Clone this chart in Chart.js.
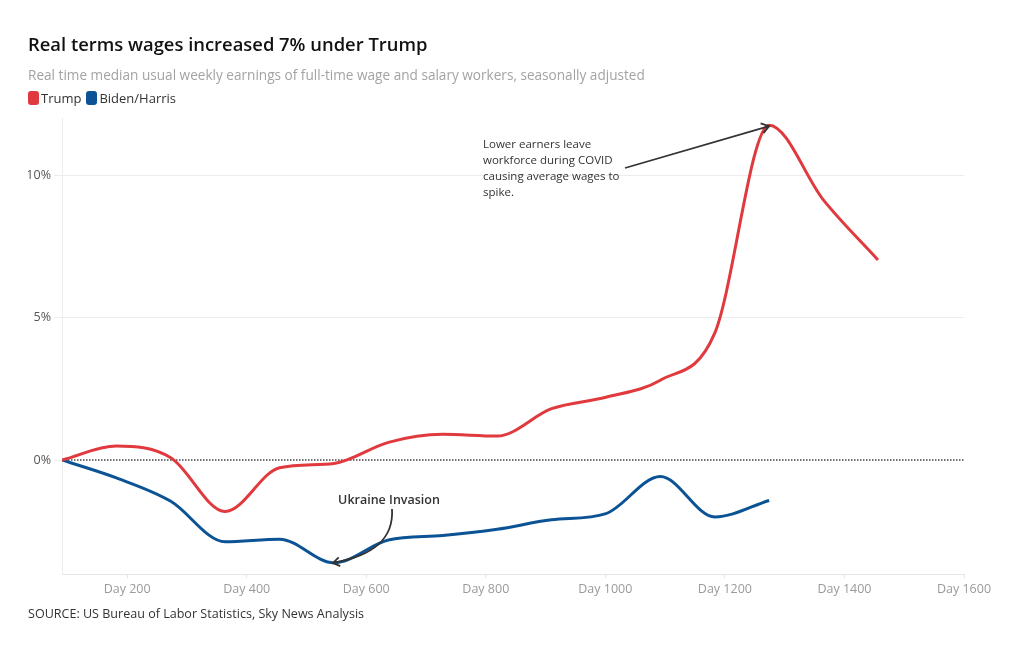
<!DOCTYPE html>
<html>
<head>
<meta charset="utf-8">
<script src="https://cdn.jsdelivr.net/npm/chart.js@4/dist/chart.umd.min.js"></script>
<style>
  html, body { margin: 0; padding: 0; background: #fff; }
  #wrap { position: relative; width: 1020px; height: 650px; overflow: hidden; font-family: "Open Sans", "Noto Sans", sans-serif; }
  #c { position: absolute; left: 0; top: 0; }
  .t { position: absolute; white-space: nowrap; }
  #title { left: 28px; top: 31px; font-size: 18.4px; font-weight: 600; color: #111; }
  #subtitle { left: 28px; top: 65px; font-size: 13.6px; color: #a3a3a3; }
  #legend { left: 28px; top: 89px; font-size: 13px; color: #333; display: flex; align-items: center; }
  .box { display: inline-block; width: 11px; height: 14px; border-radius: 3px; margin-right: 2px; }
  #source { left: 28px; top: 605px; font-size: 12.55px; color: #333; }
</style>
</head>
<body>
<div id="wrap">
  <canvas id="c" width="1020" height="650"></canvas>
  <div class="t" id="title">Real terms wages increased 7% under Trump</div>
  <div class="t" id="subtitle">Real time median usual weekly earnings of full-time wage and salary workers, seasonally adjusted</div>
  <div class="t" id="legend"><span class="box" style="background:#e0393e"></span><span style="margin-right:5px">Trump</span><span class="box" style="background:#0b5394"></span><span>Biden/Harris</span></div>
  <div class="t" id="source">SOURCE: US Bureau of Labor Statistics, Sky News Analysis</div>
</div>
<script>
// ---- data (day of term, % change in real median weekly earnings) ----
const days = [91, 182, 273, 364, 455, 546, 637, 728, 819, 910, 1001, 1092, 1183, 1274, 1365, 1456];
const trumpValues = [0, 0.49, 0.08, -1.81, -0.27, -0.12, 0.62, 0.9, 0.84, 1.8, 2.2, 2.8, 4.45, 11.75, 9.12, 7.02];
const bidenValues = [0, -0.63, -1.45, -2.87, -2.78, -3.61, -2.81, -2.65, -2.43, -2.1, -1.88, -0.58, -2.0, -1.42];
const xTickValues = [200, 400, 600, 800, 1000, 1200, 1400, 1600];
const yTickValues = [0, 5, 10];
const seriesNames = ["Trump", "Biden/Harris"];

const RED = "#e0393e", BLUE = "#0b5394";
const FONT = "'Open Sans', 'Noto Sans', sans-serif";

function pts(vals) { return vals.map((v, i) => ({ x: days[i], y: v })); }

const zeroLine = {
  id: "zeroLine",
  beforeDatasetsDraw(chart) {
    const { ctx, chartArea, scales } = chart;
    const y = scales.y.getPixelForValue(0);
    ctx.save();
    ctx.strokeStyle = "#737373";
    ctx.lineWidth = 2;
    ctx.setLineDash([1.5, 1.5]);
    ctx.beginPath();
    ctx.moveTo(chartArea.left, y);
    ctx.lineTo(chartArea.right, y);
    ctx.stroke();
    ctx.restore();
  }
};

function arrowHead(ctx, x, y, ang, len) {
  ctx.beginPath();
  ctx.moveTo(x - len * Math.cos(ang - 0.6), y - len * Math.sin(ang - 0.6));
  ctx.lineTo(x, y);
  ctx.lineTo(x - len * Math.cos(ang + 0.6), y - len * Math.sin(ang + 0.6));
  ctx.stroke();
}

const notes = {
  id: "notes",
  afterDatasetsDraw(chart) {
    const { ctx, scales } = chart;
    const xs = scales.x, ys = scales.y;
    ctx.save();
    ctx.strokeStyle = "#333";
    ctx.fillStyle = "#333";
    ctx.lineWidth = 1.8;
    ctx.setLineDash([]);
    // COVID note
    const px = xs.getPixelForValue(days[13]), py = ys.getPixelForValue(trumpValues[13]);
    const sx = 625, sy = 168;
    ctx.beginPath(); ctx.moveTo(sx, sy); ctx.lineTo(px, py + 1); ctx.stroke();
    arrowHead(ctx, px, py + 1, Math.atan2(py + 1 - sy, px - sx), 9);
    ctx.font = "500 11.5px " + FONT;
    ctx.textBaseline = "middle";
    ctx.textAlign = "left";
    const lines = ["Lower earners leave", "workforce during COVID", "causing average wages to", "spike."];
    lines.forEach((l, i) => ctx.fillText(l, 483, 145 + i * 16));
    // Ukraine note
    const ux = xs.getPixelForValue(days[5]) - 1, uy = ys.getPixelForValue(bidenValues[5]);
    ctx.font = "600 12.5px " + FONT;
    ctx.textAlign = "center";
    ctx.fillText("Ukraine Invasion", 389, 500);
    ctx.beginPath();
    ctx.moveTo(392, 509);
    ctx.bezierCurveTo(394, 540, 372, 556, ux, uy);
    ctx.stroke();
    arrowHead(ctx, ux, uy, Math.atan2(uy - 556, ux - 372), 8);
    ctx.restore();
  }
};

new Chart(document.getElementById("c"), {
  type: "line",
  data: {
    datasets: [
      { label: seriesNames[0], data: pts(trumpValues), borderColor: RED, backgroundColor: RED, borderWidth: 3, pointRadius: 0, cubicInterpolationMode: "monotone", fill: false },
      { label: seriesNames[1], data: pts(bidenValues), borderColor: BLUE, backgroundColor: BLUE, borderWidth: 3, pointRadius: 0, cubicInterpolationMode: "monotone", fill: false }
    ]
  },
  options: {
    responsive: false,
    animation: false,
    events: [],
    layout: { padding: { left: 28, right: 56, top: 118, bottom: 46 } },
    plugins: { legend: { display: false }, title: { display: false }, tooltip: { enabled: false } },
    scales: {
      x: {
        type: "linear",
        min: 91, max: 1600,
        afterBuildTicks: (a) => { a.ticks = xTickValues.map(v => ({ value: v })); },
        afterFit: (a) => { a.height = 30; },
        grid: { drawOnChartArea: false, drawTicks: true, tickLength: 4, color: "#e6e6e6", tickColor: "#e6e6e6" },
        border: { color: "#e6e6e6", width: 1 },
        ticks: { color: "#9a9a9a", font: { family: FONT, size: 12.5 }, padding: 4, maxRotation: 0, callback: (v) => "Day " + v }
      },
      y: {
        min: -4, max: 12,
        afterBuildTicks: (a) => { a.ticks = yTickValues.map(v => ({ value: v })); },
        afterFit: (a) => { a.width = 34; },
        grid: { color: (c) => (c.tick && c.tick.value === 0 ? "rgba(0,0,0,0)" : "#ececec"), tickLength: 8, tickColor: "#ececec", lineWidth: 1 },
        border: { color: "#ececec", width: 1 },
        ticks: { color: "#555", font: { family: FONT, size: 12.5 }, padding: 3, callback: (v) => v + "%" }
      }
    }
  },
  plugins: [zeroLine, notes]
});
</script>
</body>
</html>
